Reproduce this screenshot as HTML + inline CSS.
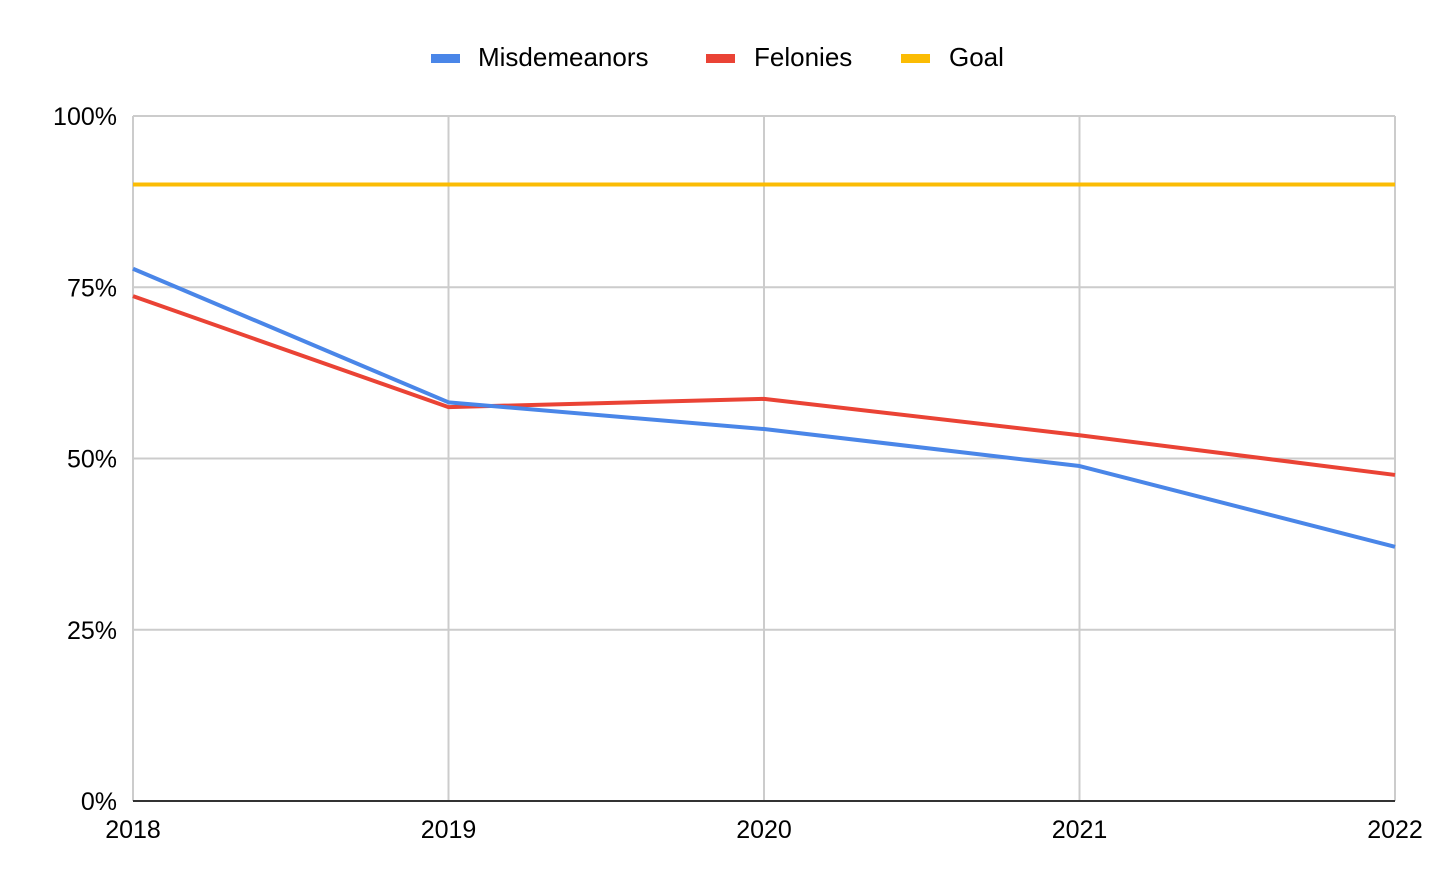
<!DOCTYPE html>
<html><head><meta charset="utf-8"><style>
body{margin:0;background:#fff;}
svg text{font-family:"Liberation Sans",Arial,sans-serif;fill:#000;}
</style></head><body>
<svg id="chart" width="1440" height="889" xmlns="http://www.w3.org/2000/svg">
<g id="legend">
<g><rect x="431" y="54" width="29" height="9" fill="#4a86e8"/><text x="478" y="66" font-size="26">Misdemeanors</text></g>
<g><rect x="706" y="54" width="29" height="9" fill="#ea4335"/><text x="754" y="66" font-size="26">Felonies</text></g>
<g><rect x="901" y="54" width="29" height="9" fill="#fbbc04"/><text x="949" y="66" font-size="26">Goal</text></g>
</g>
<g id="grid"></g>
<g id="axes"></g>
<g id="series"></g>
</svg>
<script>
const categories = ["2018","2019","2020","2021","2022"];
const misdemeanors = [77.7, 58.2, 54.3, 48.9, 37.1];
const felonies = [73.7, 57.5, 58.7, 53.4, 47.6];
const goal = [90, 90, 90, 90, 90];
const yTicks = [0, 25, 50, 75, 100];
const yTickLabels = ["0%","25%","50%","75%","100%"];

const NS="http://www.w3.org/2000/svg";
const L=133,R=1395,T=116,B=801;
const x=i=>L+(R-L)*i/(categories.length-1);
const y=v=>B-(B-T)*v/100;
function mk(tag,attrs,parent){const e=document.createElementNS(NS,tag);for(const k in attrs)e.setAttribute(k,attrs[k]);parent.appendChild(e);return e;}
const grid=document.getElementById('grid'),axes=document.getElementById('axes'),series=document.getElementById('series');
yTicks.forEach((t,i)=>{
  if(t>0){const l=mk('line',{x1:L,x2:R,y1:y(t),y2:y(t),stroke:'#cccccc','stroke-width':2},grid);
  
  }
  const tx=mk('text',{x:117,y:y(t)+9,'text-anchor':'end','font-size':25},axes);
  tx.textContent=yTickLabels[i];
  
  
});
categories.forEach((c,i)=>{
  const l=mk('line',{x1:x(i),x2:x(i),y1:T,y2:B,stroke:'#cccccc','stroke-width':2},grid);
  
  
  const tx=mk('text',{x:x(i),y:838,'text-anchor':'middle','font-size':25},axes);
  tx.textContent=c;
  
  
});
const base=mk('line',{x1:L,x2:R,y1:B,y2:B,stroke:'#333','stroke-width':2},axes);


[[goal,'#fbbc04','goal-line'],[felonies,'#ea4335','felonies-line'],[misdemeanors,'#4a86e8','misdemeanors-line']].forEach(([d,c,n])=>{
  const p=mk('polyline',{points:d.map((v,i)=>x(i)+','+y(v)).join(' '),fill:'none',stroke:c,'stroke-width':4,'stroke-linejoin':'round'},series);
  
  
});
</script>
</body></html>
